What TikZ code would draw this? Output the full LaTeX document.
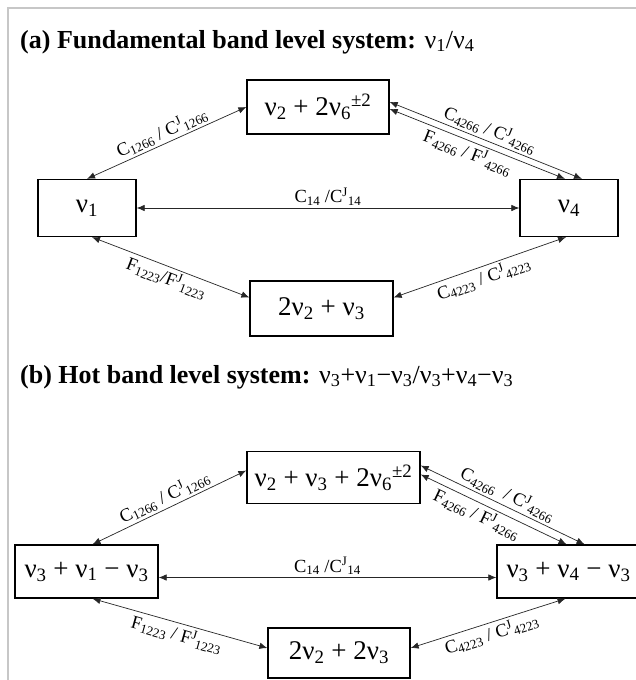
\documentclass[tikz,border=0pt]{standalone}
\usepackage{fontspec}
\setmainfont{Liberation Serif}
\usetikzlibrary{arrows.meta,calc}
\newcommand{\Sb}[1]{\textsubscript{#1}}
\newcommand{\Sp}[1]{\textsuperscript{#1}}
\begin{document}
\begin{tikzpicture}[x=1pt,y=-1pt,
  lvl/.style={draw=black,line width=1.3pt,inner sep=0pt,font=\fontsize{27}{30}\selectfont},
  link/.style={draw=black!85,line width=0.7pt,{Latex[length=8pt,width=6.5pt]}-{Latex[length=8pt,width=6.5pt]}},
  lab/.style={font=\fontsize{18.5}{20}\selectfont,sloped,inner sep=2.5pt},
  ttl/.style={font=\fontsize{26}{30}\selectfont,anchor=base west,inner sep=0pt}]
\useasboundingbox (0,0) rectangle (636,680);
\fill[white] (0,0) rectangle (636,680);
\draw[black!22,line width=1.5pt] (8,700) -- (8,8) -- (660,8);

% ---------- panel (a)
\node[ttl] (ta) at (20,48) {\textbf{(a) Fundamental band level system:} ν\Sb{1}/ν\Sb{4}};
\node[lvl,minimum width=142pt,minimum height=54pt] (a2) at (318,107) {ν\Sb{2} + 2ν\Sb{6}\Sp{±2}};
\node[lvl,minimum width=98pt,minimum height=57pt] (a1) at (87,208) {ν\Sb{1}};
\node[lvl,minimum width=98pt,minimum height=57pt] (a4) at (569,208) {ν\Sb{4}};
\node[lvl,minimum width=143pt,minimum height=55pt] (a3) at (321.5,308.5) {2ν\Sb{2} + ν\Sb{3}};

\coordinate (a2e1) at ($(a2.east)+(0,-5)$);
\coordinate (a2e2) at ($(a2.east)+(0,2)$);
\coordinate (a4n1) at ($(a4.north)+(13,0)$);
\coordinate (a4n2) at ($(a4.north)+(-4,0)$);
\coordinate (a3w) at ($(a3.west)+(0,-11)$);
\coordinate (a3e) at ($(a3.east)+(0,-11)$);
\coordinate (a1s) at ($(a1.south)+(5,0)$);
\coordinate (a4s) at ($(a4.south)+(-3,0)$);

\draw[link] (a1.north) -- node[lab,above] {C\Sb{1266} / C\Sp{J}\Sb{1266}} (a2.west);
\draw[link] (a1.east) -- node[lab,above] {C\Sb{14} /C\Sp{J}\Sb{14}} (a4.west);
\draw[link] (a2e1) -- node[lab,above] {C\Sb{4266} / C\Sp{J}\Sb{4266}} (a4n1);
\draw[link] (a2e2) -- node[lab,below,pos=0.47] {F\Sb{4266} / F\Sp{J}\Sb{4266}} (a4n2);
\draw[link] (a1s) -- node[lab,below] {F\Sb{1223}/F\Sp{J}\Sb{1223}} (a3w);
\draw[link] (a4s) -- node[lab,below] {C\Sb{4223} / C\Sp{J}\Sb{4223}} (a3e);

% ---------- panel (b)
\node[ttl] (tb) at (20,383) {\textbf{(b) Hot band level system:} ν\Sb{3}+ν\Sb{1}−ν\Sb{3}/ν\Sb{3}+ν\Sb{4}−ν\Sb{3}};
\node[lvl,minimum width=173pt,minimum height=52pt] (b2) at (333.5,477.5) {ν\Sb{2} + ν\Sb{3} + 2ν\Sb{6}\Sp{±2}};
\node[lvl,minimum width=143pt,minimum height=53pt] (b1) at (86.5,571.5) {ν\Sb{3} + ν\Sb{1} − ν\Sb{3}};
\node[lvl,minimum width=143pt,minimum height=53pt] (b4) at (568.5,571.5) {ν\Sb{3} + ν\Sb{4} − ν\Sb{3}};
\node[lvl,minimum width=142pt,minimum height=50pt] (b3) at (339,653) {2ν\Sb{2} + 2ν\Sb{3}};

\coordinate (b1n) at ($(b1.north)+(6,0)$);
\coordinate (b2w) at ($(b2.west)+(0,-7)$);
\coordinate (b2e1) at ($(b2.east)+(0,-12)$);
\coordinate (b2e2) at ($(b2.east)+(0,-3)$);
\coordinate (b4n1) at ($(b4.north)+(16,0)$);
\coordinate (b4n2) at ($(b4.north)+(-2,0)$);
\coordinate (b1s) at ($(b1.south)+(6,0)$);
\coordinate (b4s) at ($(b4.south)+(-3,0)$);
\coordinate (b3w) at ($(b3.west)+(0,-5)$);
\coordinate (b3e) at ($(b3.east)+(0,-5)$);
\coordinate (b1e) at ($(b1.east)+(0,6)$);
\coordinate (b4w) at ($(b4.west)+(0,6)$);

\draw[link] (b1n) -- node[lab,above] {C\Sb{1266} / C\Sp{J}\Sb{1266}} (b2w);
\draw[link] (b1e) -- node[lab,above] {C\Sb{14} /C\Sp{J}\Sb{14}} (b4w);
\draw[link] (b2e1) -- node[lab,above] {C\Sb{4266}~ / C\Sp{J}\Sb{4266}} (b4n1);
\draw[link] (b2e2) -- node[lab,below,pos=0.42] {F\Sb{4266} / F\Sp{J}\Sb{4266}} (b4n2);
\draw[link] (b1s) -- node[lab,below] {F\Sb{1223} / F\Sp{J}\Sb{1223}} (b3w);
\draw[link] (b4s) -- node[lab,below] {C\Sb{4223} / C\Sp{J}\Sb{4223}} (b3e);
\end{tikzpicture}
\end{document}
